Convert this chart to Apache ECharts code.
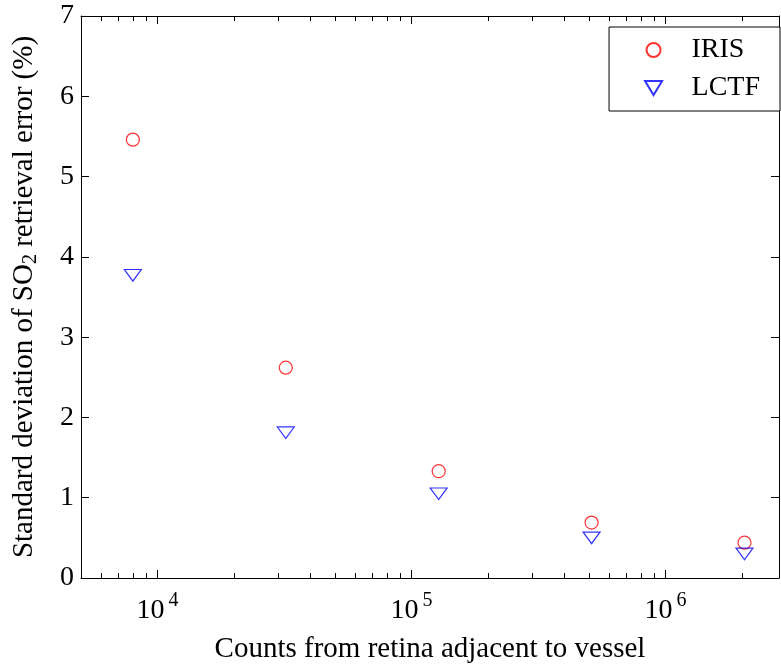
<!DOCTYPE html>
<html>
<head>
<meta charset="utf-8">
<script src="https://cdn.jsdelivr.net/npm/echarts@6/dist/echarts.min.js"></script>
<style>
  html, body { margin: 0; padding: 0; background: #fff; }
  #chart { width: 781px; height: 664px; }
</style>
</head>
<body>
<div id="chart"></div>
<script>
// Photon counts (x, log scale) and retrieval error standard deviations (%)
const counts = [8000, 32000, 128000, 512000, 2048000];
const irisStd = [5.46, 2.62, 1.33, 0.69, 0.44];
const lctfStd = [3.77, 1.81, 1.05, 0.50, 0.30];

// Decade ticks and the 2..9 sub-ticks in between
const majorTicks = [1e4, 1e5, 1e6];
const minorTicks = [6e3, 7e3, 8e3, 9e3,
  2e4, 3e4, 4e4, 5e4, 6e4, 7e4, 8e4, 9e4,
  2e5, 3e5, 4e5, 5e5, 6e5, 7e5, 8e5, 9e5,
  2e6];

const FONT = 'Liberation Serif';
const FS = 28;
const TITLE_FS = 29;
const X_MIN = 5000, X_MAX = 2.8e6;

// Downward-pointing triangle marker
const TRI_DOWN = 'path://M0 0 L17 0 L8.5 14 Z';

const chart = echarts.init(document.getElementById('chart'), null, { renderer: 'canvas' });

function logAxis(position, ticks, len, showLabels, showLine, extra) {
  return Object.assign({
    type: 'log',
    logBase: 10,
    position: position,
    min: X_MIN,
    max: X_MAX,
    axisLine: { show: showLine, onZero: false, lineStyle: { color: '#000', width: 1 } },
    axisTick: { show: true, inside: true, length: len, customValues: ticks,
                lineStyle: { color: '#000', width: 1 } },
    splitLine: { show: false },
    axisLabel: showLabels ? {
      customValues: majorTicks,
      margin: 13,
      formatter: v => '{b|10}{s|' + Math.round(Math.log10(v)) + '}',
      rich: {
        b: { fontFamily: FONT, fontSize: FS, color: '#000', verticalAlign: 'bottom' },
        s: { fontFamily: FONT, fontSize: 20, color: '#000', verticalAlign: 'bottom', padding: [0, 0, 14, 4] }
      }
    } : { show: false }
  }, extra || {});
}

function valAxis(position, showLabels, extra) {
  return Object.assign({
    type: 'value',
    position: position,
    min: 0,
    max: 7,
    interval: 1,
    axisLine: { show: true, onZero: false, lineStyle: { color: '#000', width: 1 } },
    axisTick: { show: true, inside: true, length: 8, lineStyle: { color: '#000', width: 1 } },
    splitLine: { show: false },
    axisLabel: showLabels ? {
      margin: 7,
      fontFamily: FONT, fontSize: FS, color: '#000'
    } : { show: false }
  }, extra || {});
}

chart.setOption({
  animation: false,
  backgroundColor: '#fff',
  grid: { left: 81, right: 2, top: 16, bottom: 86, containLabel: false, outerBoundsMode: 'none' },
  xAxis: [
    logAxis('bottom', majorTicks, 8, true, true, {
      name: 'Counts from retina adjacent to vessel',
      nameLocation: 'middle',
      nameGap: 57,
      nameTextStyle: { fontFamily: FONT, fontSize: TITLE_FS, color: '#000' }
    }),
    logAxis('bottom', minorTicks, 5, false, false),
    logAxis('top', majorTicks, 8, false, true),
    logAxis('top', minorTicks, 5, false, false)
  ],
  yAxis: [
    valAxis('left', true, {
      name: 'Standard deviation of SO{sub|2} retrieval error (%)',
      nameLocation: 'middle',
      nameGap: 40,
      nameTextStyle: {
        fontFamily: FONT, fontSize: TITLE_FS, color: '#000',
        rich: { sub: { fontFamily: FONT, fontSize: 20, color: '#000', verticalAlign: 'top', padding: [14, 0, 0, 0] } }
      }
    }),
    valAxis('right', false)
  ],
  legend: {
    orient: 'vertical',
    right: 1,
    top: 27,
    padding: [9, 20, 9, 35],
    itemGap: 10,
    itemWidth: 66,
    itemHeight: 14,
    symbolKeepAspect: true,
    backgroundColor: '#fff',
    borderColor: '#000',
    borderWidth: 1,
    borderRadius: 0,
    textStyle: { fontFamily: FONT, fontSize: FS, color: '#000' },
    data: ['IRIS', 'LCTF']
  },
  series: [
    {
      name: 'IRIS',
      type: 'scatter',
      xAxisIndex: 0,
      yAxisIndex: 0,
      symbol: 'circle',
      symbolSize: 13,
      itemStyle: { color: 'rgba(255,255,255,0)', borderColor: '#ff0000', borderWidth: 1.2 },
      data: counts.map((c, i) => [c, irisStd[i]])
    },
    {
      name: 'LCTF',
      type: 'scatter',
      xAxisIndex: 0,
      yAxisIndex: 0,
      symbol: TRI_DOWN,
      symbolKeepAspect: true,
      symbolSize: [17, 14],
      itemStyle: { color: 'rgba(255,255,255,0)', borderColor: '#0000ff', borderWidth: 1.2 },
      data: counts.map((c, i) => [c, lctfStd[i]])
    }
  ]
});
</script>
</body>
</html>
